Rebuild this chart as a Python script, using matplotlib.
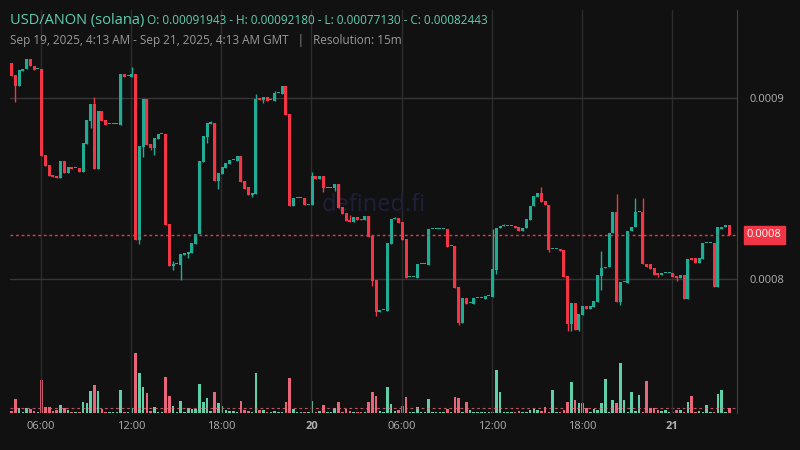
import matplotlib
matplotlib.use("Agg")
import matplotlib.pyplot as plt
import numpy as np

plt.rcParams["font.family"] = "Open Sans"

# prices in millionths (x1e-6)
opens = [919.4,912.7,906.6,914.9,916.0,921.6,917.7,916.0,916.0,868.5,863.0,857.5,856.9,855.8,865.2,858.6,861.9,861.3,861.3,859.1,
         874.6,887.3,896.7,860.8,892.8,887.8,885.6,885.6,885.6,885.1,913.3,912.2,911.6,913.3,821.5,872.9,899.5,874.6,872.4,877.4,
         880.1,880.1,830.4,807.2,808.3,807.7,813.3,813.8,814.4,819.3,824.9,864.6,878.5,885.6,886.2,854.1,858.0,861.3,863.5,865.7,
         865.2,868.0,854.1,850.8,846.4,847.0,900.0,898.9,900.6,898.9,898.3,902.8,902.2,906.6,891.2,840.3,844.8,844.8,844.8,840.9,
         840.9,856.9,855.3,856.9,850.3,850.3,850.3,852.5,839.8,836.5,832.6,831.5,834.3,833.2,832.6,834.8,823.8,799.4,781.8,782.9,
         782.3,819.3,833.2,833.8,831.5,822.1,801.1,801.1,800.6,808.3,808.3,807.7,827.6,827.6,827.6,827.6,827.6,818.2,818.2,795.6,
         775.7,789.5,786.7,786.2,789.5,789.5,789.0,790.6,790.1,805.0,828.2,829.3,829.3,829.3,829.3,828.7,826.5,828.2,832.6,840.3,
         845.3,847.5,843.1,840.9,816.6,816.6,816.6,816.0,801.7,775.1,786.7,771.8,780.1,785.1,783.4,784.5,787.3,801.7,806.1,806.6,
         825.4,837.0,787.3,798.3,797.8,826.5,828.7,837.0,837.0,808.3,808.3,806.1,803.3,802.2,803.3,803.3,803.3,801.7,800.6,802.2,
         789.0,811.6,811.6,808.8,811.1,819.9,819.9,819.9,795.6,827.6,828.7,829.8]
closes = [912.2,906.6,915.5,916.0,921.6,917.7,915.5,916.0,868.0,862.4,856.9,856.4,855.8,865.2,858.6,861.9,860.8,861.3,859.1,875.1,
          887.8,896.7,860.8,892.8,887.3,885.1,885.6,885.6,885.6,913.3,911.6,912.2,913.3,821.5,873.5,899.5,874.0,872.4,877.9,880.1,
          880.1,829.8,807.2,808.3,808.3,813.8,814.4,814.9,819.9,824.9,865.2,879.0,886.2,886.8,854.1,858.6,861.9,864.1,865.7,865.7,
          867.9,853.6,849.7,846.4,847.5,899.5,898.9,900.6,898.3,898.9,902.8,902.8,906.6,890.6,840.3,844.8,844.8,844.8,840.9,840.9,
          856.9,855.3,856.9,850.3,850.3,850.3,852.5,839.2,835.9,832.0,831.5,834.3,832.6,832.6,834.8,823.2,798.9,781.8,782.9,782.9,
          819.9,833.2,833.8,830.9,821.5,800.6,801.1,801.1,808.3,808.3,808.3,827.6,827.6,827.6,827.6,827.6,817.7,818.2,795.0,775.7,
          789.5,786.2,786.7,789.5,789.5,789.5,790.6,790.6,805.5,828.2,829.3,829.3,829.3,829.3,828.2,826.5,828.2,833.2,840.3,845.9,
          847.5,842.5,840.9,816.0,816.6,816.6,815.5,801.1,775.1,786.7,771.8,780.7,785.1,783.4,785.1,787.8,802.2,806.1,806.6,825.4,
          837.0,787.3,798.3,798.3,826.5,828.7,837.0,837.0,808.3,806.6,805.5,802.2,802.2,803.3,803.3,803.3,801.1,800.6,802.2,789.0,
          811.1,810.5,808.8,811.6,819.9,819.9,819.9,795.6,828.7,828.7,829.8,824.4]
wick_highs = {5:921.8,22:900.6,32:917.1,43:809.9,53:887.3,65:902.2,70:903.9,80:859.1,90:835.4,102:834.3,
              128:827.6,131:830.4,141:850.8,157:815.5,161:847.0,166:844.8,168:844.8}
wick_lows = {1:897.8,21:883.4,34:819.3,35:867.4,37:871.3,38:868.5,43:805.0,45:799.4,47:811.6,52:875.4,55:849.7,
             64:845.5,67:897.2,83:848.1,86:848.6,96:796.1,97:779.6,119:774.6,129:802.8,143:814.9,148:771.3,149:771.3,
             151:771.3,157:793.9,162:785.6,172:801.1,177:798.9}
volumes = [6,42,14,2,14,13,6,2,99,18,18,6,9,24,14,9,3,2,3,33,30,66,84,66,12,3,2,2,2,69,3,2,15,180,120,78,60,6,18,3,
           2,108,51,21,2,36,3,15,12,12,87,33,45,6,63,30,21,9,6,6,3,36,9,6,3,120,9,9,3,2,6,3,3,33,105,12,3,3,3,3,
           36,3,6,24,3,3,15,33,3,12,6,3,3,3,3,33,63,51,6,3,78,27,6,9,21,48,3,3,18,3,3,42,3,3,3,3,12,3,48,45,
           3,33,9,3,3,3,3,3,3,129,63,3,3,3,3,6,3,3,9,12,9,6,18,3,69,3,3,9,33,93,39,30,30,15,3,12,9,30,102,3,
           39,30,150,39,3,63,6,54,3,96,15,15,9,6,9,3,3,9,9,3,33,51,3,6,3,24,3,3,57,69,3,15]
last_close = 824.43
x_ticks = [6, 12, 18, 24, 30, 36, 42, 48]
x_labels = ["06:00", "12:00", "18:00", "20", "06:00", "12:00", "18:00", "21"]
y_ticks = [900, 800]
y_labels = ["0.0009", "0.0008"]

BG = "#111111"
UP, DN = "#22ab94", "#f23645"
VUP, VDN = "#5fcfaa", "#e8657a"

n = len(opens)
t = 4.05 + 0.25 * np.arange(n)
o = np.array(opens) * 1e-6
c = np.array(closes) * 1e-6
hi = np.maximum(o, c).copy()
lo = np.minimum(o, c).copy()
for k, v in wick_highs.items():
    hi[k] = v * 1e-6
for k, v in wick_lows.items():
    lo[k] = v * 1e-6
up = c >= o
cols = np.where(up, UP, DN)

fig = plt.figure(figsize=(8, 4.5), dpi=100, facecolor=BG)
ax = fig.add_axes([0.0125, 0.0822, 0.909, 0.8956])
ax.set_facecolor(BG)
ax.set_xlim(3.94, 52.33)
ax.set_ylim(726.0e-6, 948.6e-6)

axv = ax.twinx()
axv.set_ylim(0, 1206)
axv.set_xlim(3.94, 52.33)
axv.bar(t, volumes, width=0.17, color=np.where(up, VUP, VDN), zorder=1)
axv.axhline(14, color=VDN, ls=(0, (2.5, 2.5)), lw=0.8, alpha=0.8)
axv.set_yticks([])
for s in axv.spines.values():
    s.set_visible(False)
axv.set_zorder(0)
ax.set_zorder(1)
ax.patch.set_visible(False)

for x in x_ticks:
    ax.axvline(x, color="#2c2c2c", lw=1, zorder=0)
for y in y_ticks:
    ax.axhline(y * 1e-6, color="#363636", lw=1, zorder=0)

ax.vlines(t, lo, hi, colors=cols, lw=1, zorder=2)
h = np.maximum(np.abs(c - o), 0.5e-6)
ax.bar(t, h, bottom=np.minimum(o, c), width=0.2, color=cols, zorder=3)

ax.axhline(last_close * 1e-6, color=DN, ls=(0, (2, 2)), lw=1, zorder=4)

ax.text(0.5, 0.515, "defined.fi", transform=ax.transAxes, ha="center", va="center",
        fontsize=17, color="#1f1f3a", zorder=1)

ax.set_xticks(x_ticks)
ax.set_xticklabels(x_labels)
for lbl in ax.get_xticklabels():
    if lbl.get_text() in ("20", "21"):
        lbl.set_fontweight("bold")
ax.tick_params(axis="x", length=0, colors="#b0b0b0", labelsize=8, pad=6)
ax.yaxis.tick_right()
ax.set_yticks([v * 1e-6 for v in y_ticks])
ax.set_yticklabels(y_labels)
ax.tick_params(axis="y", length=0, colors="#b0b0b0", labelsize=8, pad=9)
for name, s in ax.spines.items():
    s.set_visible(name == "right")
ax.spines["right"].set_color("#444444")

ax.annotate("0.0008", xy=(1.0, last_close * 1e-6), xycoords=("axes fraction", "data"),
            xytext=(7, 0), textcoords="offset points", ha="left", va="center",
            fontsize=8, color="white",
            bbox=dict(boxstyle="square,pad=0.3", fc=DN, ec=DN), annotation_clip=False)

fig.text(0.012, 0.955, "USD/ANON (solana)", color="#5fcfb0", fontsize=10.5, va="center")
fig.text(0.184, 0.955, "O: 0.00091943 - H: 0.00092180 - L: 0.00077130 - C: 0.00082443",
         color="#5fcfb0", fontsize=8.5, va="center")
fig.text(0.012, 0.91, "Sep 19, 2025, 4:13 AM - Sep 21, 2025, 4:13 AM GMT   |   Resolution: 15m",
         color="#9a9a9a", fontsize=8.5, va="center")

fig.savefig("out.png", dpi=100, facecolor=BG)
